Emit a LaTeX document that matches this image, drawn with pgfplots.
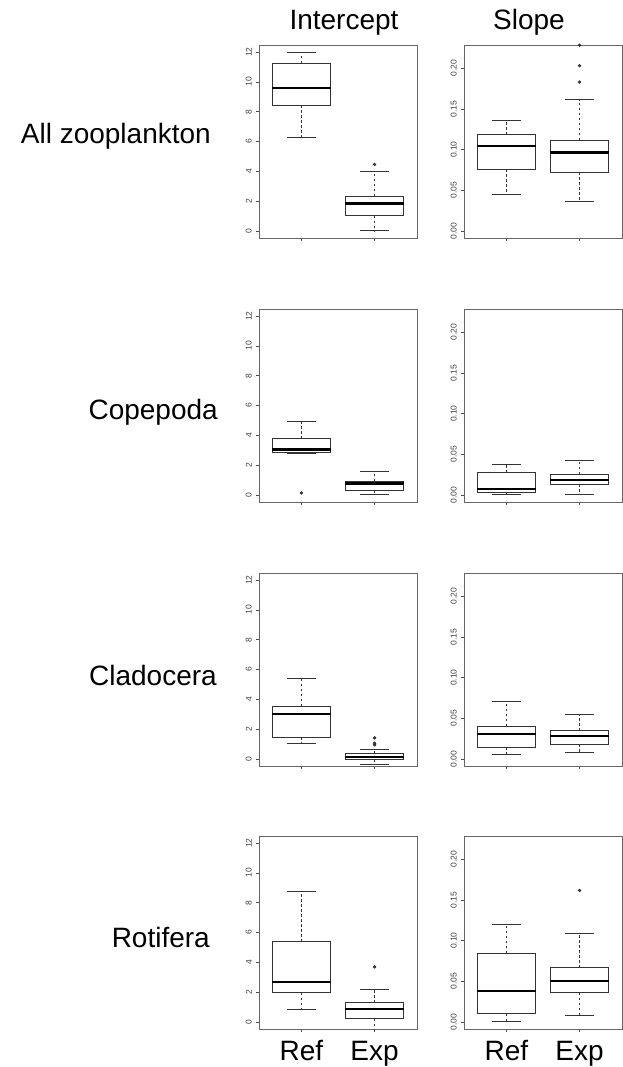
\documentclass[border=0pt]{standalone}
\usepackage{fontspec}
\setmainfont{Liberation Sans}
\usepackage{pgfplots}
\pgfplotsset{compat=1.18}
\usepgfplotslibrary{statistics}

\pgfplotsset{
  boxplot/draw/lower whisker/.code={%
    \draw[/pgfplots/boxplot/every whisker/.try, dash pattern=on 2.5pt off 2.5pt]
      (boxplot box cs:\pgfplotsboxplotvalue{lower quartile},0.5) --
      (boxplot box cs:\pgfplotsboxplotvalue{lower whisker},0.5);
    \draw[/pgfplots/boxplot/every whisker/.try, solid]
      (boxplot whisker cs:\pgfplotsboxplotvalue{lower whisker},0) --
      (boxplot whisker cs:\pgfplotsboxplotvalue{lower whisker},1);
  },
  boxplot/draw/upper whisker/.code={%
    \draw[/pgfplots/boxplot/every whisker/.try, dash pattern=on 2.5pt off 2.5pt]
      (boxplot box cs:\pgfplotsboxplotvalue{upper quartile},0.5) --
      (boxplot box cs:\pgfplotsboxplotvalue{upper whisker},0.5);
    \draw[/pgfplots/boxplot/every whisker/.try, solid]
      (boxplot whisker cs:\pgfplotsboxplotvalue{upper whisker},0) --
      (boxplot whisker cs:\pgfplotsboxplotvalue{upper whisker},1);
  },
  rbox/.style={black!80, line width=0.9pt, solid, mark=*, mark size=1.2pt,
    mark options={solid, fill=black!80, draw=black!80}},
  panel/.style={scale only axis, width=158pt, height=193pt, anchor=north west,
    xmin=0.42, xmax=2.58, xtick={1,2}, xticklabels={},
    xtick pos=bottom, ytick pos=left,
    tick align=outside, major tick length=3pt,
    tick style={black!70, line width=0.6pt},
    axis line style={black!60, line width=0.8pt},
    yticklabel style={font=\fontsize{8.5}{9}\selectfont, text=black!75, inner sep=0pt, xshift=-4pt, anchor=south, rotate=90},
    /pgf/number format/assume math mode=true,
    boxplot/draw direction=y,
    boxplot/box extend=0.8, boxplot/whisker extend=0.4,
    boxplot/every median/.style={line width=2.2pt, black},
    clip=true},
  ipanel/.style={panel, ymin=-0.48, ymax=12.48, ytick={0,2,4,6,8,10,12}},
  spanel/.style={panel, ymin=-0.0088, ymax=0.2288, ytick={0,0.05,0.1,0.15,0.2},
    yticklabels={0.00,0.05,0.10,0.15,0.20}},
}
\newcommand{\bigfont}{\fontsize{28}{30}\selectfont}

\begin{document}
\begin{tikzpicture}
\path[use as bounding box] (0pt,0pt) rectangle (623pt,-1067pt);

% titles
\node[anchor=base, font=\bigfont] at (344pt,-30pt) {Intercept};
\node[anchor=base, font=\bigfont] at (529pt,-30pt) {Slope};
% row labels
\node[anchor=base east, font=\bigfont, inner sep=0pt] at (211pt,-144pt) {All zooplankton};
\node[anchor=base east, font=\bigfont, inner sep=0pt] at (218pt,-419pt) {Copepoda};
\node[anchor=base east, font=\bigfont, inner sep=0pt] at (217pt,-685pt) {Cladocera};
\node[anchor=base east, font=\bigfont, inner sep=0pt] at (210pt,-947pt) {Rotifera};
% bottom group labels
\node[anchor=base, font=\bigfont, inner sep=0pt] at (301.4pt,-1060pt) {Ref};
\node[anchor=base, font=\bigfont, inner sep=0pt] at (374.6pt,-1060pt) {Exp};
\node[anchor=base, font=\bigfont, inner sep=0pt] at (506.4pt,-1060pt) {Ref};
\node[anchor=base, font=\bigfont, inner sep=0pt] at (579.6pt,-1060pt) {Exp};

% ---------- Row 1: All zooplankton ----------
\begin{axis}[ipanel, at={(259pt,-45pt)}]
\addplot[rbox, boxplot prepared={draw position=1, lower whisker=6.28, lower quartile=8.43, median=9.58, upper quartile=11.24, upper whisker=12.0}] coordinates {};
\addplot[rbox, boxplot prepared={draw position=2, lower whisker=0.0, lower quartile=1.01, median=1.84, upper quartile=2.31, upper whisker=3.99}] table[row sep=\\, y index=0] {v\\ 4.46\\};
\end{axis}
\begin{axis}[spanel, at={(464pt,-45pt)}]
\addplot[rbox, boxplot prepared={draw position=1, lower whisker=0.0448, lower quartile=0.0756, median=0.1047, upper quartile=0.1183, upper whisker=0.136}] coordinates {};
\addplot[rbox, boxplot prepared={draw position=2, lower whisker=0.0361, lower quartile=0.0719, median=0.0965, upper quartile=0.1113, upper whisker=0.1614}] table[row sep=\\, y index=0] {v\\ 0.2285\\ 0.2033\\ 0.1832\\};
\end{axis}

% ---------- Row 2: Copepoda ----------
\begin{axis}[ipanel, at={(259pt,-309pt)}]
\addplot[rbox, boxplot prepared={draw position=1, lower whisker=2.76, lower quartile=2.84, median=3.04, upper quartile=3.78, upper whisker=4.91}] table[row sep=\\, y index=0] {v\\ 0.13\\};
\addplot[rbox, boxplot prepared={draw position=2, lower whisker=0.0, lower quartile=0.31, median=0.76, upper quartile=0.93, upper whisker=1.56}] coordinates {};
\end{axis}
\begin{axis}[spanel, at={(464pt,-309pt)}]
\addplot[rbox, boxplot prepared={draw position=1, lower whisker=0.0, lower quartile=0.0033, median=0.0074, upper quartile=0.0272, upper whisker=0.0371}] coordinates {};
\addplot[rbox, boxplot prepared={draw position=2, lower whisker=0.0, lower quartile=0.0132, median=0.0181, upper quartile=0.0256, upper whisker=0.0429}] coordinates {};
\end{axis}

% ---------- Row 3: Cladocera ----------
\begin{axis}[ipanel, at={(259pt,-573pt)}]
\addplot[rbox, boxplot prepared={draw position=1, lower whisker=1.05, lower quartile=1.45, median=2.99, upper quartile=3.52, upper whisker=5.42}] coordinates {};
\addplot[rbox, boxplot prepared={draw position=2, lower whisker=-0.40, lower quartile=-0.02, median=0.11, upper quartile=0.38, upper whisker=0.62}] table[row sep=\\, y index=0] {v\\ 1.41\\ 1.05\\ 0.94\\};
\end{axis}
\begin{axis}[spanel, at={(464pt,-573pt)}]
\addplot[rbox, boxplot prepared={draw position=1, lower whisker=0.0057, lower quartile=0.0144, median=0.0304, upper quartile=0.0402, upper whisker=0.0710}] coordinates {};
\addplot[rbox, boxplot prepared={draw position=2, lower whisker=0.0074, lower quartile=0.0181, median=0.0283, upper quartile=0.0345, upper whisker=0.0542}] coordinates {};
\end{axis}

% ---------- Row 4: Rotifera ----------
\begin{axis}[ipanel, at={(259pt,-836pt)}]
\addplot[rbox, boxplot prepared={draw position=1, lower whisker=0.83, lower quartile=1.97, median=2.66, upper quartile=5.39, upper whisker=8.76}] coordinates {};
\addplot[rbox, boxplot prepared={draw position=2, lower whisker=-0.55, lower quartile=0.22, median=0.85, upper quartile=1.30, upper whisker=2.21}] table[row sep=\\, y index=0] {v\\ 3.69\\};
\end{axis}
\begin{axis}[spanel, at={(464pt,-836pt)}]
\addplot[rbox, boxplot prepared={draw position=1, lower whisker=0.0, lower quartile=0.0099, median=0.0378, upper quartile=0.0842, upper whisker=0.1203}] coordinates {};
\addplot[rbox, boxplot prepared={draw position=2, lower whisker=0.0074, lower quartile=0.0361, median=0.0505, upper quartile=0.0669, upper whisker=0.1088}] table[row sep=\\, y index=0] {v\\ 0.1618\\};
\end{axis}
\end{tikzpicture}
\end{document}
